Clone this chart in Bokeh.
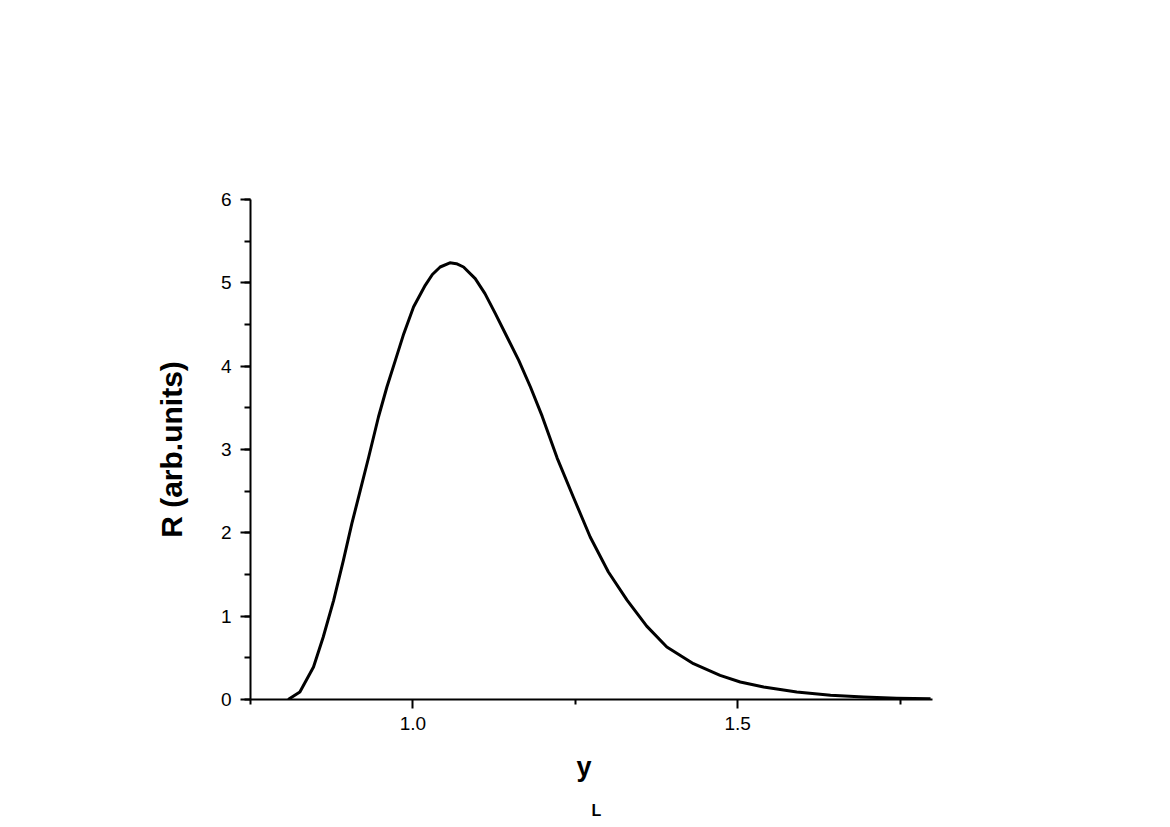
from bokeh.plotting import figure
from bokeh.models import Range1d, FixedTicker, SingleIntervalTicker, Title
from bokeh.embed import file_html
from bokeh.resources import INLINE

# Data
y_L = [0.808, 0.826, 0.847, 0.862, 0.878, 0.893, 0.906, 0.919, 0.932, 0.947,
       0.960, 0.973, 0.986, 1.001, 1.019, 1.030, 1.042, 1.057, 1.067, 1.078,
       1.096, 1.111, 1.127, 1.145, 1.163, 1.181, 1.199, 1.222, 1.247, 1.273,
       1.301, 1.330, 1.360, 1.391, 1.432, 1.473, 1.504, 1.540, 1.591, 1.643,
       1.694, 1.745, 1.797]
R = [0.0, 0.09, 0.39, 0.75, 1.19, 1.67, 2.11, 2.51, 2.91, 3.39,
     3.75, 4.07, 4.39, 4.71, 4.97, 5.10, 5.19, 5.24, 5.23, 5.19,
     5.05, 4.87, 4.63, 4.35, 4.07, 3.75, 3.40, 2.90, 2.43, 1.95,
     1.53, 1.19, 0.88, 0.63, 0.43, 0.29, 0.21, 0.15, 0.09, 0.05,
     0.03, 0.015, 0.008]

x_major = [1.0, 1.5]
x_minor = [0.75, 1.25, 1.75]
x_labels = {1.0: "1.0", 1.5: "1.5"}

FONT = "Liberation Sans"

p = figure(output_backend="svg", toolbar_location=None,
           frame_width=682, frame_height=500,
           x_range=Range1d(0.75, 1.8), y_range=Range1d(0, 6))
p.min_border_left = 250
p.min_border_top = 199
p.min_border_right = 230
p.min_border_bottom = 110
p.outline_line_color = None
p.background_fill_color = "white"
p.border_fill_color = "white"
p.xgrid.visible = False
p.ygrid.visible = False

p.line(y_L, R, line_color="black", line_width=3, line_join="round")

xa = p.xaxis[0]
xa.ticker = FixedTicker(ticks=x_major, minor_ticks=x_minor)
xa.major_label_overrides = x_labels
ya = p.yaxis[0]
ya.ticker = SingleIntervalTicker(interval=1, num_minor_ticks=2)

for ax in (xa, ya):
    ax.axis_line_color = "black"
    ax.axis_line_width = 2
    ax.major_tick_line_color = "black"
    ax.major_tick_line_width = 2
    ax.minor_tick_line_color = "black"
    ax.minor_tick_line_width = 2
    ax.major_tick_in = 0
    ax.minor_tick_in = 0
    ax.major_label_text_font = FONT
    ax.major_label_text_font_size = "19px"
    ax.major_label_text_color = "black"

xa.major_tick_out = 9
xa.minor_tick_out = 5
xa.major_label_standoff = 8
ya.major_tick_out = 10
ya.minor_tick_out = 6
ya.major_label_standoff = 9

ya.axis_label = "R (arb.units)"
ya.axis_label_text_font = FONT
ya.axis_label_text_font_style = "bold"
ya.axis_label_text_font_size = "30px"
ya.axis_label_text_color = "black"
ya.axis_label_standoff = 30

# x-axis label "y" with subscript "L", as two titles below the axis
t_main = Title(text="y", align="left", offset=326, standoff=35,
               text_font=FONT, text_font_style="bold", text_font_size="27px",
               text_color="black")
t_sub = Title(text="L", align="left", offset=341, standoff=0,
              text_font=FONT, text_font_style="bold", text_font_size="16px",
              text_color="black")
p.add_layout(t_main, "below")
p.add_layout(t_sub, "below")

open("out.html", "w").write(file_html(p, INLINE))
